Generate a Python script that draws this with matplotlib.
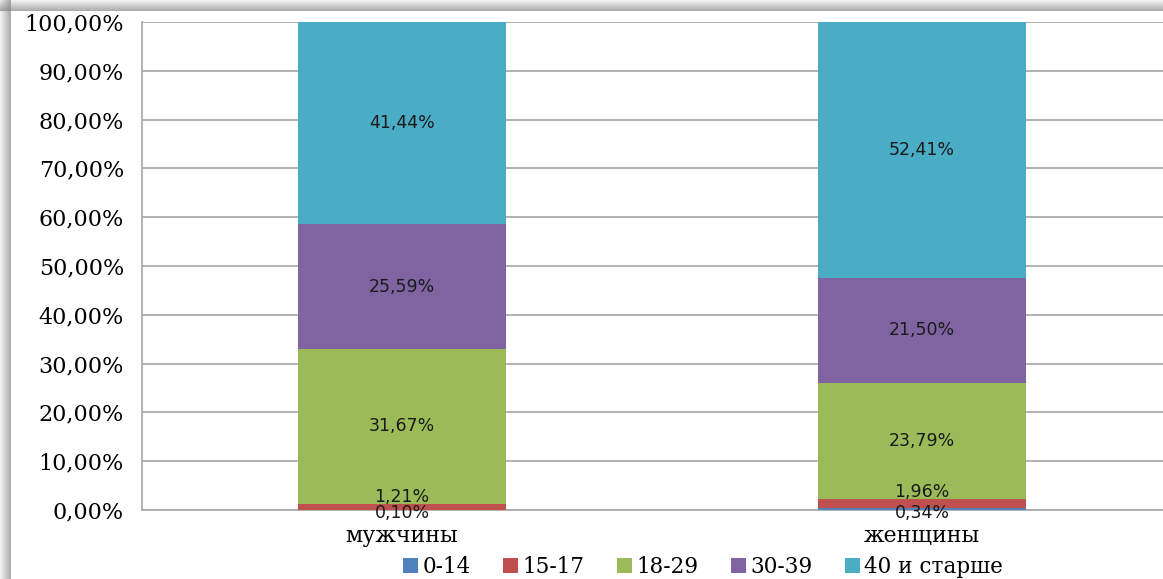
import numpy as np
import matplotlib.pyplot as plt
from matplotlib.patches import Rectangle

categories = ['мужчины', 'женщины']
groups = ['0-14', '15-17', '18-29', '30-39', '40 и старше']
values = {
    '0-14': [0.10, 0.34],
    '15-17': [1.21, 1.96],
    '18-29': [31.67, 23.79],
    '30-39': [25.59, 21.50],
    '40 и старше': [41.44, 52.41],
}
colors = ['#4F81BD', '#C0504D', '#9BBB59', '#8064A2', '#4BACC6']
yticks = np.arange(0, 101, 10)

fig = plt.figure(figsize=(11.63, 5.79), dpi=100)
fig.patch.set_facecolor('white')

# shadow of the chart frame
for i in range(11):
    a = 0.1 + 0.055 * i
    fig.patches.append(Rectangle((i / 1163, 0), 1 / 1163, 1, transform=fig.transFigure,
                                 color='#808080', alpha=a, lw=0))
    fig.patches.append(Rectangle((0, 1 - (i + 1) / 579), 1, 1 / 579, transform=fig.transFigure,
                                 color='#808080', alpha=a, lw=0))

ax = fig.add_axes([142 / 1163, 69 / 579, 1040 / 1163, 488 / 579])
x = np.arange(len(categories))
bottom = np.zeros(len(categories))
for g, c in zip(groups, colors):
    v = np.array(values[g])
    ax.bar(x, v, 0.4, bottom=bottom, color=c, label=g, zorder=3)
    for xi, vi, bi in zip(x, v, bottom):
        txt = f'{vi:.2f}%'.replace('.', ',')
        if g == '0-14':
            y = -0.6
        elif g == '15-17':
            y = bi + vi + 1.4
        else:
            y = bi + vi / 2
        ax.text(xi, y, txt, ha='center', va='center', fontsize=12.5,
                family='DejaVu Sans', color='#1a1a1a', zorder=5)
    bottom += v

ax.set_xlim(-0.5, 1.5)
ax.set_ylim(0, 100)
ax.set_yticks(yticks)
ax.set_yticklabels([f'{t},00%' for t in yticks], family='DejaVu Serif', fontsize=16)
ax.set_xticks(x)
ax.set_xticklabels(categories, family='DejaVu Serif', fontsize=16)
ax.tick_params(axis='y', length=0, pad=13)
ax.tick_params(axis='x', length=0, pad=11)
ax.grid(axis='y', color='#A6A6A6', lw=1.2, zorder=0)
for s in ['top', 'right']:
    ax.spines[s].set_visible(False)
for s in ['left', 'bottom']:
    ax.spines[s].set_color('#A6A6A6')
    ax.spines[s].set_linewidth(1.2)

fig.legend(loc='center', bbox_to_anchor=(703 / 1163, 12 / 579), ncol=5, frameon=False,
           prop={'family': 'DejaVu Serif', 'size': 15.5}, handlelength=0.7, handleheight=0.7,
           handletextpad=0.2, columnspacing=1.5, borderpad=0)

fig.savefig('out.png', dpi=100)
